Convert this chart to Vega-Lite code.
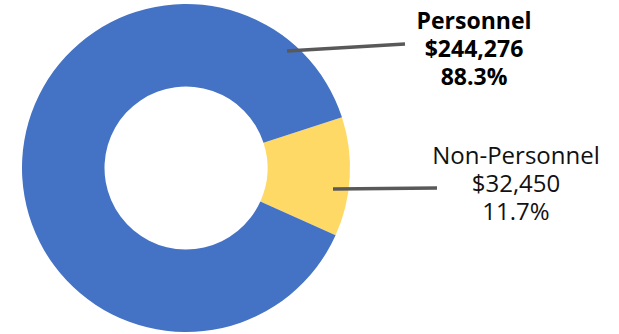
{
  "$schema": "https://vega.github.io/schema/vega-lite/v6.json",
  "width": 619,
  "height": 334,
  "padding": 0,
  "autosize": {"type": "none"},
  "background": "white",
  "view": {"stroke": null},
  "config": {"font": "Open Sans"},
  "datasets": {
    "budget": [
      {"category": "Non-Personnel", "amount": 32450, "order": 1},
      {"category": "Personnel", "amount": 244276, "order": 2}
    ],
    "callouts": [
      {"category": "Personnel", "label": "Personnel\n$244,276\n88.3%", "tx": 474, "ty": 29, "lx1": 287, "ly1": 51, "lx2": 405, "ly2": 44},
      {"category": "Non-Personnel", "label": "Non-Personnel\n$32,450\n11.7%", "tx": 516, "ty": 164, "lx1": 333, "ly1": 189, "lx2": 437, "ly2": 188}
    ]
  },
  "encoding": {},
  "resolve": {"scale": {"x": "shared", "y": "shared"}},
  "layer": [
    {
      "data": {"name": "budget"},
      "mark": {"type": "arc", "radius": 164, "innerRadius": 81.5},
      "encoding": {
        "theta": {"field": "amount", "type": "quantitative", "stack": true, "scale": {"range": [1.2566, 7.5398]}},
        "color": {"field": "category", "type": "nominal", "scale": {"domain": ["Non-Personnel", "Personnel"], "range": ["#FFD966", "#4472C4"]}, "legend": null},
        "order": {"field": "order", "type": "quantitative"},
        "x": {"datum": 186, "type": "quantitative", "scale": {"domain": [0, 619], "zero": false, "nice": false}, "axis": null},
        "y": {"datum": 168, "type": "quantitative", "scale": {"domain": [0, 334], "reverse": true, "zero": false, "nice": false}, "axis": null}
      }
    },
    {
      "data": {"name": "callouts"},
      "mark": {"type": "rule", "color": "#595959", "strokeWidth": 3.5},
      "encoding": {
        "x": {"field": "lx1", "type": "quantitative"},
        "y": {"field": "ly1", "type": "quantitative"},
        "x2": {"field": "lx2"},
        "y2": {"field": "ly2"}
      }
    },
    {
      "data": {"name": "callouts"},
      "transform": [{"filter": "datum.category === 'Personnel'"}],
      "mark": {"type": "text", "fontSize": 23, "fontWeight": "bold", "align": "center", "baseline": "alphabetic", "lineBreak": "\n", "lineHeight": 28, "color": "#000000"},
      "encoding": {
        "x": {"field": "tx", "type": "quantitative"},
        "y": {"field": "ty", "type": "quantitative"},
        "text": {"field": "label"}
      }
    },
    {
      "data": {"name": "callouts"},
      "transform": [{"filter": "datum.category === 'Non-Personnel'"}],
      "mark": {"type": "text", "fontSize": 24, "align": "center", "baseline": "alphabetic", "lineBreak": "\n", "lineHeight": 28, "color": "#111111"},
      "encoding": {
        "x": {"field": "tx", "type": "quantitative"},
        "y": {"field": "ty", "type": "quantitative"},
        "text": {"field": "label"}
      }
    }
  ]
}
